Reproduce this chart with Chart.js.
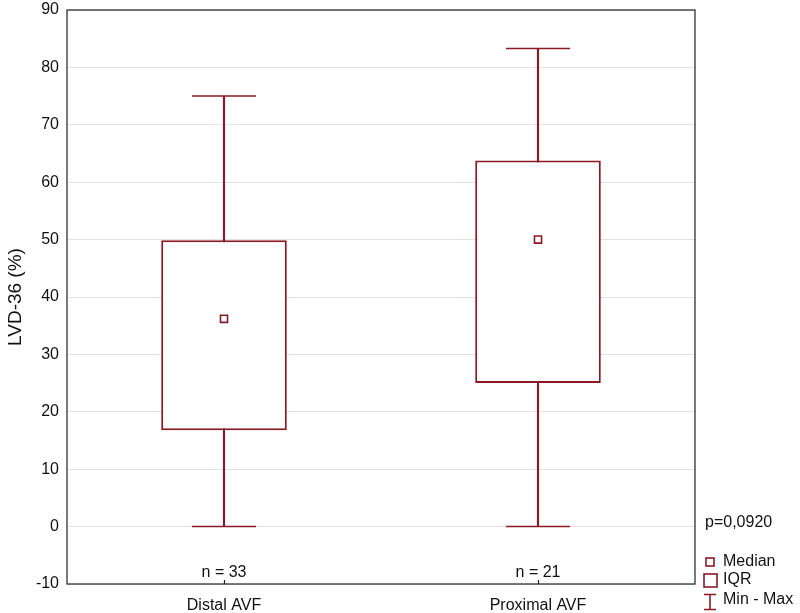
<!DOCTYPE html>
<html>
<head>
<meta charset="utf-8">
<script src="https://cdn.jsdelivr.net/npm/chart.js@4"></script>
<style>
  html, body { margin: 0; padding: 0; background: #fff; }
  #wrap { width: 800px; height: 613px; }
</style>
</head>
<body>
<div id="wrap"><canvas id="lvdBox"></canvas></div>
<script>
// groups and their box plot stats
var groups = ['Distal AVF', 'Proximal AVF'];
var counts = [33, 21];
var mins = [0, 0];
var q1s = [16.8, 25];
var medians = [36.2, 50];
var q3s = [49.9, 63.8];
var maxs = [75, 83.3];
var yTicks = [-10, 0, 10, 20, 30, 40, 50, 60, 70, 80, 90];
var pValue = 'p=0,0920';

var dark = '#8b1a26';
var font = "'Liberation Sans', Arial, sans-serif";

// extra drawing: frame, n labels, p value and the legend on the right
var decor = {
  id: 'decor',
  afterDatasetsDraw: function (chart) {
    var ctx = chart.ctx, a = chart.chartArea;
    var x = chart.scales.x, y = chart.scales.y;
    ctx.save();
    ctx.strokeStyle = '#222';
    ctx.lineWidth = 1.2;
    ctx.strokeRect(a.left, a.top, a.right - a.left, a.bottom - a.top);

    // small ticks on the category axis
    ctx.beginPath();
    groups.forEach(function (g, i) {
      var px = Math.round(x.getPixelForValue(i)) + 0.5;
      ctx.moveTo(px, a.bottom);
      ctx.lineTo(px, a.bottom - 4);
    });
    ctx.stroke();

    ctx.fillStyle = '#111';
    ctx.font = '16px ' + font;
    ctx.textAlign = 'center';
    ctx.textBaseline = 'middle';
    groups.forEach(function (g, i) {
      ctx.fillText('n = ' + counts[i], x.getPixelForValue(i), y.getPixelForValue(-8));
    });

    // p value + legend
    ctx.textAlign = 'left';
    ctx.fillText(pValue, a.right + 10, y.getPixelForValue(0.7));
    var cx = a.right + 15;
    ctx.strokeStyle = dark;
    ctx.lineWidth = 1.6;
    ctx.strokeRect(cx - 4, 558, 8, 8);
    ctx.fillText('Median', a.right + 28, 562);
    ctx.strokeRect(cx - 6, 574, 13, 13);
    ctx.fillText('IQR', a.right + 28, 580);
    ctx.beginPath();
    ctx.moveTo(cx - 6, 594.5); ctx.lineTo(cx + 6, 594.5);
    ctx.moveTo(cx, 594.5); ctx.lineTo(cx, 609.5);
    ctx.moveTo(cx - 6, 609.5); ctx.lineTo(cx + 6, 609.5);
    ctx.stroke();
    ctx.fillText('Min - Max', a.right + 28, 600);
    ctx.restore();
  }
};

var box = new Chart(document.getElementById('lvdBox'), {
  data: {
    labels: groups,
    datasets: [
      {
        type: 'line', label: 'Median', order: 0,
        data: medians, showLine: false,
        pointStyle: 'rect', pointRadius: 5, pointHoverRadius: 5,
        pointBackgroundColor: '#fff', pointBorderColor: dark, pointBorderWidth: 1.6
      },
      {
        type: 'line', label: 'Max', order: 1,
        data: maxs, showLine: false,
        pointStyle: 'line', pointRadius: 32, pointHoverRadius: 32,
        pointBorderColor: dark, pointBorderWidth: 1.5
      },
      {
        type: 'line', label: 'Min', order: 1,
        data: mins, showLine: false,
        pointStyle: 'line', pointRadius: 32, pointHoverRadius: 32,
        pointBorderColor: dark, pointBorderWidth: 1.5
      },
      {
        type: 'bar', label: 'IQR', order: 2, grouped: false,
        data: groups.map(function (g, i) { return [q1s[i], q3s[i]]; }),
        backgroundColor: '#fff', borderColor: dark, borderWidth: 2,
        borderSkipped: false, barPercentage: 0.4, categoryPercentage: 1
      },
      {
        type: 'bar', label: 'Whisker', order: 3, grouped: false,
        data: groups.map(function (g, i) { return [mins[i], maxs[i]]; }),
        backgroundColor: dark, borderWidth: 0, barThickness: 1.5
      }
    ]
  },
  options: {
    responsive: true,
    maintainAspectRatio: false,
    animation: false,
    layout: { autoPadding: false, padding: { top: 10, right: 105, left: 4, bottom: 0 } },
    plugins: { legend: { display: false }, tooltip: { enabled: false } },
    scales: {
      x: {
        offset: true,
        grid: { display: false },
        border: { display: false },
        ticks: { color: '#111', font: { family: font, size: 16 }, padding: 4 },
        afterFit: function (s) { s.height = 29; s.paddingLeft = 0; s.paddingRight = 0; }
      },
      y: {
        min: -10, max: 90,
        afterBuildTicks: function (s) { s.ticks = yTicks.map(function (v) { return { value: v }; }); },
        grid: { color: '#e2e2e2', drawTicks: false },
        border: { display: false },
        ticks: { color: '#111', font: { family: font, size: 16 }, padding: 8 },
        title: { display: true, text: 'LVD-36 (%)', color: '#111', font: { family: font, size: 19 }, padding: { top: 0, bottom: 6 } },
        afterFit: function (s) { s.width = 63; s.paddingTop = 0; s.paddingBottom = 0; }
      }
    }
  },
  plugins: [decor]
});
</script>
</body>
</html>
